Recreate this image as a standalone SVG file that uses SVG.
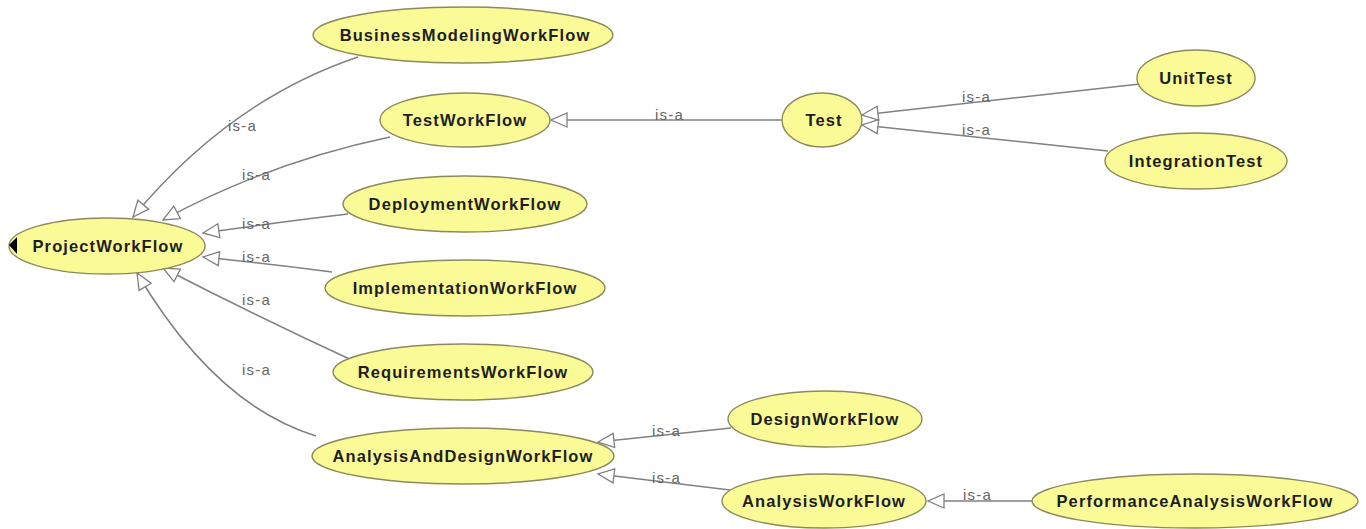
<svg xmlns="http://www.w3.org/2000/svg" width="1366" height="529" viewBox="0 0 1366 529">
  <defs>
    <marker id="isa" markerUnits="userSpaceOnUse" markerWidth="20" markerHeight="18" refX="17" refY="8" orient="auto" overflow="visible">
      <path d="M1,1 L17,8 L1,15 Z" fill="#ffffff" stroke="#808080" stroke-width="1.3"/>
    </marker>
  </defs>
  <style>
    .node ellipse { fill: #fafa96; stroke: #8a8a5c; stroke-width: 1.4; }
    .node text { font-family: "Liberation Sans", Arial, sans-serif; font-weight: bold; font-size: 16.5px; letter-spacing: 1.1px; fill: #1e1e1e; text-anchor: middle; }
    .edge { fill: none; stroke: #808080; stroke-width: 1.5; marker-end: url(#isa); }
    .lbl { font-family: "Liberation Sans", Arial, sans-serif; font-size: 15px; letter-spacing: 1.2px; fill: #666666; }
  </style>
  <rect width="1366" height="529" fill="#ffffff"/>

  <!-- is-a links, each ending in a hollow triangle at the parent class -->
  <g id="connectors">
    <path class="edge" d="M358,57 Q230,100 133,217"/>
    <path class="edge" d="M390,137 Q270,162 163,220"/>
    <path class="edge" d="M348,214 Q280,222 203,233"/>
    <path class="edge" d="M332,272 Q270,264 203,257"/>
    <path class="edge" d="M358,363 Q260,318 163,268"/>
    <path class="edge" d="M316,436 Q215,405 137,273"/>
    <path class="edge" d="M783,120 L551,120"/>
    <path class="edge" d="M1140,84 L862,115"/>
    <path class="edge" d="M1108,151 L862,125"/>
    <path class="edge" d="M731,428 L598,442"/>
    <path class="edge" d="M730,490 L598,474"/>
    <path class="edge" d="M1032,501 L928,501"/>
    <text class="lbl" x="228" y="131">is-a</text>
    <text class="lbl" x="242" y="180">is-a</text>
    <text class="lbl" x="242" y="229">is-a</text>
    <text class="lbl" x="242" y="262">is-a</text>
    <text class="lbl" x="242" y="305">is-a</text>
    <text class="lbl" x="242" y="375">is-a</text>
    <text class="lbl" x="655" y="120">is-a</text>
    <text class="lbl" x="962" y="102">is-a</text>
    <text class="lbl" x="962" y="135">is-a</text>
    <text class="lbl" x="652" y="436">is-a</text>
    <text class="lbl" x="652" y="483">is-a</text>
    <text class="lbl" x="963" y="500">is-a</text>
  </g>

  <g id="ProjectWorkFlow" class="node">
    <ellipse cx="107" cy="246" rx="98" ry="28"/>
    <polygon points="9,245 17,237 17,254" fill="#000000"/>
    <text x="108" y="252">ProjectWorkFlow</text>
  </g>
  <g id="BusinessModelingWorkFlow" class="node">
    <ellipse cx="463" cy="35" rx="150" ry="28"/>
    <text x="465" y="41">BusinessModelingWorkFlow</text>
  </g>
  <g id="TestWorkFlow" class="node">
    <ellipse cx="465" cy="120" rx="85" ry="27"/>
    <text x="465" y="126">TestWorkFlow</text>
  </g>
  <g id="DeploymentWorkFlow" class="node">
    <ellipse cx="465" cy="204" rx="122" ry="28"/>
    <text x="465" y="210">DeploymentWorkFlow</text>
  </g>
  <g id="ImplementationWorkFlow" class="node">
    <ellipse cx="465" cy="288" rx="140" ry="28"/>
    <text x="465" y="294">ImplementationWorkFlow</text>
  </g>
  <g id="RequirementsWorkFlow" class="node">
    <ellipse cx="463" cy="372" rx="130" ry="28"/>
    <text x="463" y="378">RequirementsWorkFlow</text>
  </g>
  <g id="AnalysisAndDesignWorkFlow" class="node">
    <ellipse cx="463" cy="456" rx="151" ry="28"/>
    <text x="463" y="462">AnalysisAndDesignWorkFlow</text>
  </g>
  <g id="Test" class="node">
    <ellipse cx="822" cy="120" rx="40" ry="27"/>
    <text x="824" y="126">Test</text>
  </g>
  <g id="UnitTest" class="node">
    <ellipse cx="1196" cy="78" rx="59" ry="28"/>
    <text x="1196" y="84">UnitTest</text>
  </g>
  <g id="IntegrationTest" class="node">
    <ellipse cx="1196" cy="161" rx="91" ry="28"/>
    <text x="1196" y="167">IntegrationTest</text>
  </g>
  <g id="DesignWorkFlow" class="node">
    <ellipse cx="825" cy="419" rx="97" ry="28"/>
    <text x="825" y="425">DesignWorkFlow</text>
  </g>
  <g id="AnalysisWorkFlow" class="node">
    <ellipse cx="824" cy="501" rx="102" ry="27"/>
    <text x="824" y="507">AnalysisWorkFlow</text>
  </g>
  <g id="PerformanceAnalysisWorkFlow" class="node">
    <ellipse cx="1195" cy="501" rx="163" ry="27"/>
    <text x="1195" y="507">PerformanceAnalysisWorkFlow</text>
  </g>
</svg>
